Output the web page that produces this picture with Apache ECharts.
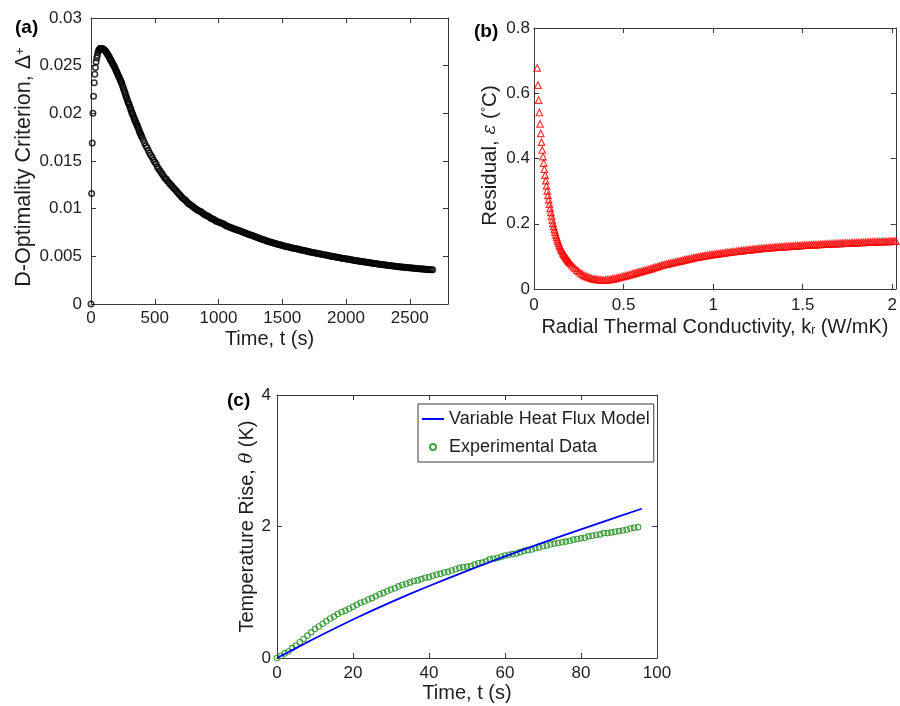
<!DOCTYPE html>
<html><head><meta charset="utf-8">
<script src="https://cdn.jsdelivr.net/npm/echarts@6/dist/echarts.min.js"></script>
<style>html,body{margin:0;padding:0;background:#fff}#c{width:900px;height:706px}</style>
</head><body><div id="c"></div>
<script>
// ---------- Panel (a): D-optimality criterion vs time ----------
const aTime = [
  0,5,10,15,20,25,30,35,40,45,50,55,60,65,70,75,80,85,90,95,100,
  105,110,115,120,125,130,135,140,145,150,155,160,165,170,175,180,185,190,195,200,
  205,210,215,220,225,230,235,240,245,250,255,260,265,270,275,280,285,290,295,300,
  305,310,315,320,325,330,335,340,345,350,355,360,365,370,375,380,385,390,395,400,
  410,420,430,440,450,460,470,480,490,500,510,520,530,540,550,560,570,580,590,600,
  610,620,630,640,650,660,670,680,690,700,710,720,730,740,750,760,770,780,790,800,
  810,820,830,840,850,860,870,880,890,900,910,920,930,940,950,960,970,980,990,1000,
  1010,1020,1030,1040,1050,1060,1070,1080,1090,1100,1110,1120,1130,1140,1150,1160,1170,1180,1190,1200,
  1210,1220,1230,1240,1250,1260,1270,1280,1290,1300,1310,1320,1330,1340,1350,1360,1370,1380,1390,1400,
  1410,1420,1430,1440,1450,1460,1470,1480,1490,1500,1510,1520,1530,1540,1550,1560,1570,1580,1590,1600,
  1610,1620,1630,1640,1650,1660,1670,1680,1690,1700,1710,1720,1730,1740,1750,1760,1770,1780,1790,1800,
  1810,1820,1830,1840,1850,1860,1870,1880,1890,1900,1910,1920,1930,1940,1950,1960,1970,1980,1990,2000,
  2010,2020,2030,2040,2050,2060,2070,2080,2090,2100,2110,2120,2130,2140,2150,2160,2170,2180,2190,2200,
  2210,2220,2230,2240,2250,2260,2270,2280,2290,2300,2310,2320,2330,2340,2350,2360,2370,2380,2390,2400,
  2410,2420,2430,2440,2450,2460,2470,2480,2490,2500,2510,2520,2530,2540,2550,2560,2570,2580,2590,2600,
  2610,2620,2630,2640,2650,2660,2670,2680
];
const aCriterion = [
  0,0.0116,0.0169,0.0200,0.0218,0.0232,0.0241,0.0248,0.0254,0.0258,0.0261,0.0264,0.0266,0.0267,0.0268,0.0268,0.0268,0.0268,0.0268,0.0267,0.0267,
  0.02665,0.0266,0.0265,0.0264,0.0263,0.0262,0.0261,0.0260,0.02585,0.0257,0.0256,0.0255,0.02535,0.0252,0.0251,0.0250,0.02485,0.0247,0.02455,0.0244,
  0.02425,0.0241,0.02395,0.0238,0.02365,0.0235,0.02335,0.0232,0.0230,0.0228,0.0226,0.0224,0.0222,0.0220,0.0218,0.0216,0.0214,0.0212,0.02105,0.0209,
  0.0207,0.0205,0.0203,0.0201,0.01995,0.0198,0.0196,0.0194,0.01925,0.0191,0.01895,0.0188,0.01865,0.0185,0.0183,0.0181,0.01795,0.0178,0.01765,0.0175,
  0.0172,0.0169,0.0166,0.0164,0.0161,0.0158,0.0156,0.0154,0.0151,0.0149,0.0147,0.0144,0.0142,0.0140,0.0138,0.0136,0.0134,0.0132,0.0131,0.0129,
  0.01275,0.0126,0.01245,0.0123,0.01215,0.0120,0.01185,0.0117,0.01155,0.0114,0.01125,0.0111,0.0110,0.0109,0.01075,0.0106,0.0105,0.0104,0.0103,0.0102,
  0.0101,0.0100,0.0099,0.0098,0.00975,0.0097,0.0096,0.0095,0.0094,0.0093,0.00925,0.0092,0.0091,0.0090,0.00895,0.0089,0.0088,0.0087,0.00865,0.0086,
  0.00855,0.0085,0.00845,0.0084,0.0083,0.0082,0.00815,0.0081,0.00805,0.0080,0.00795,0.0079,0.00785,0.0078,0.00775,0.0077,0.00765,0.0076,0.00755,0.0075,
  0.00745,0.0074,0.00735,0.0073,0.00725,0.0072,0.00715,0.0071,0.00705,0.0070,0.00695,0.0069,0.00685,0.0068,0.00676,0.00671,0.00666,0.0066,0.00656,0.00652,
  0.00648,0.00644,0.0064,0.00636,0.00632,0.00629,0.00625,0.00621,0.00618,0.00614,0.00611,0.00607,0.00604,0.00601,0.00597,0.00594,0.00591,0.00588,0.00585,0.00582,
  0.00579,0.00576,0.00573,0.0057,0.00567,0.00564,0.00561,0.00558,0.00555,0.00552,0.00549,0.00546,0.00543,0.0054,0.00537,0.00535,0.00532,0.00529,0.00527,0.00524,
  0.00521,0.00519,0.00516,0.00513,0.00511,0.00508,0.00505,0.00502,0.005,0.00497,0.00495,0.00492,0.0049,0.00487,0.00485,0.00483,0.0048,0.00478,0.00476,0.00473,
  0.00471,0.00469,0.00466,0.00464,0.00462,0.00459,0.00457,0.00455,0.00452,0.0045,0.00448,0.00446,0.00444,0.00442,0.0044,0.00438,0.00436,0.00434,0.00432,0.0043,
  0.00428,0.00426,0.00424,0.00422,0.0042,0.00418,0.00416,0.00414,0.00412,0.00411,0.00409,0.00407,0.00405,0.00404,0.00402,0.004,0.00398,0.00397,0.00395,0.00394,
  0.00392,0.00391,0.00389,0.00388,0.00386,0.00385,0.00383,0.00382,0.0038,0.00379,0.00378,0.00377,0.00375,0.00374,0.00373,0.00372,0.0037,0.00369,0.00368,0.00367,
  0.00366,0.00365,0.00363,0.00362,0.00361,0.0036,0.00359,0.00358
];

// ---------- Panel (b): residual vs radial thermal conductivity ----------
const bK = [
  0.018,0.022,0.026,0.030,0.034,0.038,0.042,0.046,0.050,0.054,0.058,0.062,0.066,0.070,0.074,0.078,0.082,0.086,0.090,0.094,
  0.098,0.102,0.106,0.110,0.114,0.118,0.122,0.126,0.130,0.134,0.138,0.142,0.146,0.150,0.154,0.158,0.162,0.166,0.170,0.174,
  0.178,0.182,0.186,0.190,0.194,0.198,0.202,
  0.21,0.22,0.23,0.24,0.25,0.26,0.27,0.28,0.29,0.30,0.31,0.32,0.33,0.34,0.35,0.36,0.37,0.38,0.39,0.40,
  0.41,0.42,0.43,0.44,0.45,0.46,0.47,0.48,0.49,0.50,0.51,0.52,0.53,0.54,0.55,0.56,0.57,0.58,0.59,0.60,
  0.61,0.62,0.63,0.64,0.65,0.66,0.67,0.68,0.69,0.70,0.71,0.72,0.73,0.74,0.75,0.76,0.77,0.78,0.79,0.80,
  0.81,0.82,0.83,0.84,0.85,0.86,0.87,0.88,0.89,0.90,0.91,0.92,0.93,0.94,0.95,0.96,0.97,0.98,0.99,1.00,
  1.01,1.02,1.03,1.04,1.05,1.06,1.07,1.08,1.09,1.10,1.11,1.12,1.13,1.14,1.15,1.16,1.17,1.18,1.19,1.20,
  1.21,1.22,1.23,1.24,1.25,1.26,1.27,1.28,1.29,1.30,1.31,1.32,1.33,1.34,1.35,1.36,1.37,1.38,1.39,1.40,
  1.41,1.42,1.43,1.44,1.45,1.46,1.47,1.48,1.49,1.50,1.51,1.52,1.53,1.54,1.55,1.56,1.57,1.58,1.59,1.60,
  1.61,1.62,1.63,1.64,1.65,1.66,1.67,1.68,1.69,1.70,1.71,1.72,1.73,1.74,1.75,1.76,1.77,1.78,1.79,1.80,
  1.81,1.82,1.83,1.84,1.85,1.86,1.87,1.88,1.89,1.90,1.91,1.92,1.93,1.94,1.95,1.96,1.97,1.98,1.99,2.00,
  2.01,2.02
];
const bResidual = [
  0.678,0.625,0.579,0.541,0.506,0.477,0.450,0.426,0.406,0.386,0.367,0.349,0.332,0.316,0.301,0.287,0.273,0.260,0.247,0.235,
  0.223,0.212,0.201,0.191,0.182,0.174,0.166,0.159,0.152,0.146,0.140,0.134,0.129,0.124,0.119,0.115,0.111,0.107,0.104,0.100,
  0.097,0.094,0.091,0.088,0.085,0.082,0.079,
  0.074,0.068,0.063,0.058,0.053,0.049,0.045,0.042,0.039,0.037,0.035,0.033,0.031,0.030,0.0295,0.0285,0.028,0.0276,0.0275,0.0277,
  0.0282,0.029,0.030,0.031,0.032,0.033,0.0345,0.036,0.0375,0.039,0.0405,0.042,0.0435,0.045,0.0465,0.048,0.0495,0.051,0.0525,0.054,
  0.0555,0.057,0.0585,0.060,0.0618,0.0635,0.0653,0.067,0.0688,0.0705,0.0721,0.0737,0.0751,0.0765,0.0778,0.079,0.0803,0.0815,0.0828,0.084,
  0.0853,0.0865,0.0878,0.089,0.0903,0.0915,0.0928,0.094,0.0953,0.0965,0.0975,0.0985,0.0995,0.1005,0.1015,0.1025,0.1035,0.1045,0.1053,0.106,
  0.1068,0.1075,0.1083,0.109,0.1098,0.1105,0.1113,0.112,0.1128,0.1135,0.1143,0.115,0.1157,0.1163,0.117,0.1176,0.1183,0.1189,0.1196,0.1202,
  0.1208,0.1214,0.122,0.1226,0.1232,0.1238,0.1244,0.125,0.1255,0.1259,0.1264,0.1268,0.1273,0.1277,0.1281,0.1285,0.1289,0.1293,0.1297,0.1301,
  0.1305,0.1309,0.1313,0.1316,0.132,0.1323,0.1327,0.133,0.1334,0.1337,0.1341,0.1344,0.1347,0.135,0.1353,0.1356,0.1359,0.1362,0.1365,0.1368,
  0.1371,0.1374,0.1377,0.138,0.1383,0.1386,0.1389,0.1391,0.1394,0.1396,0.1399,0.1401,0.1404,0.1406,0.1409,0.1411,0.1414,0.1416,0.1419,0.1421,
  0.1424,0.1426,0.1429,0.1431,0.1434,0.1436,0.1438,0.144,0.1442,0.1444,0.1446,0.1448,0.145,0.1452,0.1454,0.1456,0.1458,0.146,0.1462,0.1464,
  0.1466,0.1468
];

// ---------- Panel (c): temperature rise vs time ----------
const cModelTime = [0,5,10,15,20,25,30,35,40,45,50,55,60,65,70,75,80,85,90,95,96];
const cModelRise = [0,0.15,0.30,0.445,0.585,0.72,0.85,0.975,1.095,1.212,1.326,1.437,1.545,1.651,1.755,1.857,1.957,2.056,2.154,2.251,2.27];
const cExpTime = [
  0,1,2,3,4,5,6,7,8,9,10,11,12,13,14,15,16,17,18,19,20,21,22,23,24,25,26,27,28,29,30,31,32,33,34,35,36,37,38,39,
  40,41,42,43,44,45,46,47,48,49,50,51,52,53,54,55,56,57,58,59,60,61,62,63,64,65,66,67,68,69,70,71,72,73,74,75,76,77,78,79,
  80,81,82,83,84,85,86,87,88,89,90,91,92,93,94,95
];
const cExpRise = [
  0.00,0.03,0.07,0.10,0.15,0.19,0.24,0.29,0.34,0.39,0.44,0.48,0.52,0.56,0.60,0.63,0.67,0.70,0.72,0.75,0.78,0.81,0.84,0.86,0.89,0.91,0.94,0.97,0.99,1.02,
  1.04,1.06,1.09,1.11,1.13,1.15,1.17,1.18,1.20,1.22,1.23,1.25,1.27,1.28,1.30,1.31,1.33,1.35,1.37,1.38,1.39,1.40,1.42,1.44,1.45,1.47,1.50,1.51,1.52,1.54,
  1.56,1.57,1.58,1.59,1.61,1.63,1.64,1.65,1.67,1.68,1.70,1.71,1.73,1.74,1.75,1.76,1.77,1.78,1.80,1.81,1.82,1.83,1.85,1.86,1.87,1.88,1.90,1.90,1.91,1.92,
  1.93,1.94,1.95,1.97,1.98,1.99
];
const legendNames = ['Variable Heat Flux Model', 'Experimental Data'];

// ---------- styling ----------
const FONT = '"Liberation Sans", Arial, Helvetica, sans-serif';
const AX = '#3a3a3a';
const TXT = '#1e1e1e';
const pairs = (xs, ys) => xs.map((x, i) => [x, ys[i]]);

function makeRich(fs) {
  return {
    n: {fontSize: fs, fontFamily: FONT, color: TXT},
    g: {fontSize: fs - 2, fontFamily: '"DejaVu Serif", serif', fontStyle: 'italic', color: TXT},
    sup: {fontSize: Math.round(fs * 0.62), fontFamily: FONT, color: TXT, verticalAlign: 'top'},
    supEnd: {fontSize: Math.round(fs * 0.62), fontFamily: FONT, color: TXT, verticalAlign: 'top', padding: [0, 12, 0, 0]},
    nStart: {fontSize: fs, fontFamily: FONT, color: TXT, padding: [0, 0, 0, 6]},
    sub: {fontSize: Math.round(fs * 0.62), fontFamily: FONT, color: TXT, verticalAlign: 'bottom'}
  };
}

function axis(kind, grid, min, max, interval, position, o) {
  o = o || {};
  const ax = {
    type: 'value', gridIndex: grid, min: min, max: max, interval: interval, position: position,
    axisLine: {show: true, onZero: false, lineStyle: {color: AX, width: 1}},
    axisTick: {show: true, inside: true, length: 5, lineStyle: {color: AX, width: 1}},
    splitLine: {show: false},
    axisLabel: {show: !!o.labels, fontSize: 17, fontFamily: FONT, color: TXT, margin: o.margin || 6,
                formatter: o.fmt || (v => String(v))},
    silent: true
  };
  if (o.name) {
    const fs = o.fs || 20;
    ax.name = o.name;
    ax.nameLocation = 'middle';
    ax.nameGap = o.gap;
    ax.nameTextStyle = {fontSize: fs, fontFamily: FONT, color: TXT, rich: makeRich(fs)};
    if (kind === 'y') ax.nameRotate = 90;
  }
  return ax;
}

const fmtA_x = v => (Math.abs(v % 500) < 1e-9 ? String(v) : '');
const fmtA_y = v => String(+v.toFixed(4));
const fmtB_x = v => (Math.abs(v * 2 - Math.round(v * 2)) < 1e-6 ? String(+v.toFixed(2)) : '');
const fmtPlain = v => String(+v.toFixed(3));
const titleStyle = {fontSize: 19, fontWeight: 'bold', fontFamily: FONT, color: '#000'};

const option = {
  animation: false,
  backgroundColor: '#ffffff',
  title: [
    {text: '(a)', left: 10, top: 13, textStyle: titleStyle},
    {text: '(b)', left: 469, top: 17, textStyle: titleStyle},
    {text: '(c)', left: 222, top: 386, textStyle: titleStyle}
  ],
  grid: [
    {left: 91, top: 18, width: 357, height: 286},
    {left: 534, top: 28, width: 363, height: 261},
    {left: 277, top: 395, width: 380, height: 263}
  ],
  xAxis: [
    axis('x', 0, 0, 2800, 500, 'bottom', {labels: true, fmt: fmtA_x, margin: 6, name: 'Time, t (s)', gap: 25}),
    axis('x', 0, 0, 2800, 500, 'top'),
    axis('x', 1, 0, 2.02, 0.5, 'bottom', {labels: true, fmt: fmtB_x, margin: 8,
      name: '{n|Radial Thermal Conductivity, k}{sub|r}{n| (W/mK)}', gap: 28}),
    axis('x', 1, 0, 2.02, 0.5, 'top'),
    axis('x', 2, 0, 100, 20, 'bottom', {labels: true, fmt: fmtPlain, margin: 7, name: 'Time, t (s)', gap: 25}),
    axis('x', 2, 0, 100, 20, 'top')
  ],
  yAxis: [
    axis('y', 0, 0, 0.03, 0.005, 'left', {labels: true, fmt: fmtA_y, margin: 9, fs: 21.5,
      name: '{n|D-Optimality Criterion, Δ}{supEnd|+}', gap: 52}),
    axis('y', 0, 0, 0.03, 0.005, 'right'),
    axis('y', 1, 0, 0.8, 0.2, 'left', {labels: true, fmt: fmtPlain, margin: 4, fs: 20.5,
      name: '{nStart|Residual, }{g|ε}{n| (}{sup|°}{n|C)}', gap: 33}),
    axis('y', 1, 0, 0.8, 0.2, 'right'),
    axis('y', 2, 0, 4, 2, 'left', {labels: true, fmt: fmtPlain, margin: 6, fs: 20,
      name: '{n|Temperature Rise, }{g|θ}{n| (K)}', gap: 19}),
    axis('y', 2, 0, 4, 2, 'right')
  ],
  legend: {
    data: [
      {name: legendNames[0], itemStyle: {opacity: 0}},
      {name: legendNames[1]}
    ],
    orient: 'vertical', left: 418, top: 404,
    itemWidth: 22, itemHeight: 6, itemGap: 10, padding: [6, 4, 6, 3],
    borderColor: AX, borderWidth: 1, backgroundColor: '#fff', selectedMode: false,
    textStyle: {fontSize: 18, fontFamily: FONT, color: TXT}
  },
  series: [
    {type: 'scatter', xAxisIndex: 0, yAxisIndex: 0, data: pairs(aTime, aCriterion),
     symbol: 'circle', symbolSize: 5.5, silent: true,
     itemStyle: {color: 'rgba(0,0,0,0)', borderColor: '#000', borderWidth: 1.5}},
    {type: 'scatter', xAxisIndex: 2, yAxisIndex: 2, data: pairs(bK, bResidual),
     symbol: 'triangle', symbolSize: 6.5, silent: true,
     itemStyle: {color: 'rgba(0,0,0,0)', borderColor: '#ff0000', borderWidth: 1.2}},
    {type: 'line', name: legendNames[0], xAxisIndex: 4, yAxisIndex: 4, data: pairs(cModelTime, cModelRise),
     symbol: 'none', smooth: false, silent: true,
     lineStyle: {color: '#0000ff', width: 1.8}, itemStyle: {color: '#0000ff'}},
    {type: 'scatter', name: legendNames[1], xAxisIndex: 4, yAxisIndex: 4, data: pairs(cExpTime, cExpRise),
     symbol: 'circle', symbolSize: 5.5, silent: true,
     itemStyle: {color: 'rgba(0,0,0,0)', borderColor: '#168a16', borderWidth: 1.1}}
  ]
};
const chart = echarts.init(document.getElementById('c'), null, {renderer: 'canvas'});
chart.setOption(option);
</script></body></html>
